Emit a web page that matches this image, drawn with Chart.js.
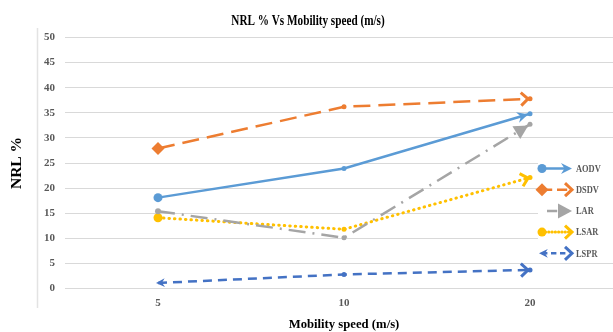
<!DOCTYPE html>
<html>
<head>
<meta charset="utf-8">
<script src="https://cdn.jsdelivr.net/npm/chart.js@4.4.1/dist/chart.umd.min.js"></script>
<style>
  html, body { margin: 0; padding: 0; background: #fff; overflow: hidden; }
  #wrap { position: relative; width: 613px; height: 332px; overflow: hidden; }
  canvas { display: block; }
</style>
</head>
<body>
<div id="wrap"><canvas id="c" width="630" height="332"></canvas></div>
<script>
// Mobility speeds (m/s) on the category axis
const speeds = ['5', '10', '20'];
const seriesNames = ['AODV', 'DSDV', 'LAR', 'LSAR', 'LSPR'];

// NRL % for each routing protocol
const aodv = [18.1, 23.9, 34.8];
const dsdv = [27.9, 36.2, 37.8];
const lar  = [15.4, 10.1, 32.7];
const lsar = [14.1, 11.8, 22.1];
const lspr = [1.1, 2.8, 3.7];

const yTicks = [0, 5, 10, 15, 20, 25, 30, 35, 40, 45, 50];

const chartTitle = 'NRL % Vs Mobility speed (m/s)';
const xTitle = 'Mobility speed (m/s)';
const yTitle = 'NRL %';

const serif = '"Liberation Serif", "Times New Roman", serif';

// Line look per protocol: colour, dash, start marker, arrow head
const looks = [
  { color: '#5B9BD5', dash: [],            start: 'circle',  startR: 4.5, head: 'stealth' },
  { color: '#ED7D31', dash: [17, 8],       start: 'rectRot', startR: 6.5, head: 'chevron' },
  { color: '#A5A5A5', dash: [17, 7, 2, 7], start: 'circle',  startR: 3,   head: 'triangle' },
  { color: '#FFC000', dash: [0.5, 5],      start: 'circle',  startR: 4.5, head: 'chevron', cap: 'round' },
  { color: '#4472C4', dash: [9, 6],        start: 'back',    startR: 0,   head: 'chevron' }
];
const seriesValues = [aodv, dsdv, lar, lsar, lspr];

function drawHead(ctx, x, y, ang, type, color, k) {
  k = k || 1;
  ctx.save();
  ctx.translate(x, y);
  ctx.rotate(ang);
  ctx.scale(k, k);
  ctx.setLineDash([]);
  ctx.fillStyle = color;
  ctx.strokeStyle = color;
  ctx.beginPath();
  if (type === 'stealth') {
    ctx.moveTo(0, 0); ctx.lineTo(-11, -5.5); ctx.lineTo(-7.5, 0); ctx.lineTo(-11, 5.5);
    ctx.closePath(); ctx.fill();
  } else if (type === 'triangle') {
    ctx.moveTo(0, 0); ctx.lineTo(-14, -7.5); ctx.lineTo(-14, 7.5);
    ctx.closePath(); ctx.fill();
  } else {
    ctx.lineWidth = 3; ctx.lineCap = 'butt'; ctx.lineJoin = 'miter';
    ctx.moveTo(-7, -6.5); ctx.lineTo(0, 0); ctx.lineTo(-7, 6.5);
    ctx.stroke();
  }
  ctx.restore();
}

function drawStart(ctx, x, y, look) {
  ctx.save();
  ctx.setLineDash([]);
  ctx.fillStyle = look.color;
  ctx.beginPath();
  if (look.start === 'circle') {
    ctx.arc(x, y, look.startR, 0, Math.PI * 2); ctx.fill();
  } else if (look.start === 'rectRot') {
    const r = look.startR;
    ctx.moveTo(x - r, y); ctx.lineTo(x, y - r); ctx.lineTo(x + r, y); ctx.lineTo(x, y + r);
    ctx.closePath(); ctx.fill();
  }
  ctx.restore();
  if (look.start === 'back') drawHead(ctx, x - 1, y, Math.PI, 'stealth', look.color, 0.8);
}

// Text drawn with a horizontal squeeze (narrow bold serif lettering)
function squeezedText(ctx, text, x, y, font, color, sx, align) {
  ctx.save();
  ctx.font = font;
  ctx.fillStyle = color;
  ctx.textBaseline = 'middle';
  ctx.textAlign = align;
  ctx.translate(x, y);
  ctx.scale(sx, 1);
  ctx.fillText(text, 0, 0);
  ctx.restore();
}

// Title, arrow heads at line ends, the LSPR start arrow, legend and a faint frame line
const decorPlugin = {
  id: 'decor',
  beforeDraw(chart) {
    const ctx = chart.ctx;
    ctx.save();
    ctx.strokeStyle = '#E3E3E3';
    ctx.lineWidth = 1.5;
    ctx.beginPath();
    ctx.moveTo(37.5, 28); ctx.lineTo(37.5, 308);
    ctx.stroke();
    ctx.restore();
    squeezedText(ctx, chartTitle, 308, 21, 'bold 14px ' + serif, '#000', 0.8, 'center');
  },
  afterDatasetsDraw(chart) {
    const ctx = chart.ctx;
    chart.data.datasets.forEach((ds, i) => {
      const look = looks[i];
      const pts = chart.getDatasetMeta(i).data;
      const a = pts[pts.length - 2], b = pts[pts.length - 1];
      const ang = Math.atan2(b.y - a.y, b.x - a.x);
      drawHead(ctx, b.x - 2 * Math.cos(ang), b.y - 2 * Math.sin(ang), ang, look.head, look.color);
      if (look.start === 'back') {
        const p = pts[0], q = pts[1];
        const ang0 = Math.atan2(p.y - q.y, p.x - q.x);
        drawHead(ctx, p.x - 2, p.y, ang0, 'stealth', look.color, 0.8);
      }
    });
  },
  afterDraw(chart) {
    const ctx = chart.ctx;
    const area = chart.chartArea;
    const lx = area.right - 82;
    const ly = area.top + 131;
    ctx.save();
    ctx.fillStyle = '#fff';
    ctx.fillRect(lx - 3, ly - 11, 200, 103);
    chart.data.datasets.forEach((ds, i) => {
      const look = looks[i];
      const y = ly + i * 21.2;
      const x1 = lx + 1, x2 = lx + 31;
      ctx.save();
      ctx.strokeStyle = look.color;
      ctx.lineWidth = ds.borderWidth;
      ctx.lineCap = look.cap || 'butt';
      ctx.setLineDash(look.dash.length ? look.dash.map(v => v * 0.6) : []);
      ctx.beginPath();
      ctx.moveTo(i === 2 ? x1 + 5 : x1, y);
      ctx.lineTo(x2 - 3, y);
      ctx.stroke();
      ctx.restore();
      if (i !== 2) drawStart(ctx, x1 + (look.start === 'back' ? -2 : 0), y, look);
      drawHead(ctx, x2, y, 0, look.head, look.color);
      squeezedText(ctx, ds.label, x2 + 4, y + 0.5, 'bold 10.5px ' + serif, '#595959', 0.8, 'left');
    });
    ctx.restore();
  }
};

const datasets = seriesNames.map((name, i) => {
  const look = looks[i];
  return {
    label: name,
    data: seriesValues[i],
    borderColor: look.color,
    backgroundColor: look.color,
    borderWidth: i === 3 ? 3 : 2.5,
    borderDash: look.dash,
    borderCapStyle: look.cap || 'butt',
    tension: 0,
    fill: false,
    pointStyle: ctx => ctx.dataIndex === 0 && look.start === 'rectRot' ? 'rectRot' : 'circle',
    pointRadius: ctx => ctx.dataIndex === 0 ? look.startR : 2.5,
    pointBorderWidth: 0,
    pointBackgroundColor: look.color,
    pointHoverRadius: 0
  };
});

new Chart(document.getElementById('c'), {
  type: 'line',
  data: { labels: speeds, datasets },
  plugins: [decorPlugin],
  options: {
    responsive: false,
    animation: false,
    devicePixelRatio: 1,
    layout: { padding: { left: 0, right: 7, top: 37.5, bottom: 0 } },
    plugins: {
      legend: { display: false },
      tooltip: { enabled: false },
      title: { display: false }
    },
    scales: {
      x: {
        type: 'category',
        offset: true,
        grid: { display: false, drawTicks: false },
        border: { display: false },
        ticks: { color: '#595959', font: { family: serif, size: 11, weight: 'bold' }, padding: 8 },
        title: {
          display: true,
          text: xTitle,
          color: '#000',
          font: { family: serif, size: 12.7, weight: 'bold' },
          padding: { top: 0, bottom: 0 }
        },
        afterFit: s => { s.height = 43.5; }
      },
      y: {
        min: 0,
        max: 50,
        afterBuildTicks: s => { s.ticks = yTicks.map(v => ({ value: v })); },
        grid: { color: '#D9D9D9', lineWidth: 1, drawTicks: false },
        border: { display: false },
        ticks: { color: '#595959', font: { family: serif, size: 11, weight: 'bold' }, padding: 10 },
        title: {
          display: true,
          text: yTitle,
          color: '#000',
          font: { family: serif, size: 15.5, weight: 'bold' },
          padding: { top: 7.7, bottom: 0 }
        },
        afterFit: s => { s.width = 65; }
      }
    }
  }
});
</script>
</body>
</html>
